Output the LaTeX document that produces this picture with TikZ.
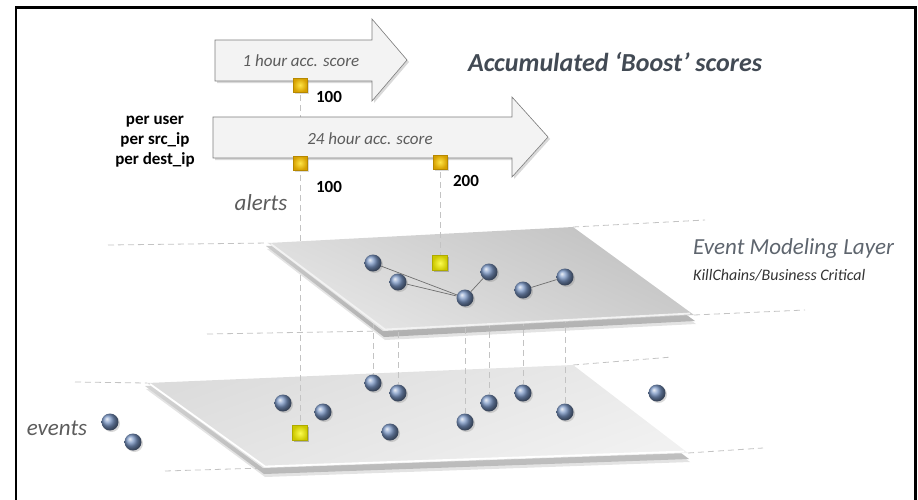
\documentclass[tikz,border=0pt]{standalone}
\usepackage{fontspec}
\setmainfont{Carlito}
\usetikzlibrary{shadows,calc}
\definecolor{ballc}{RGB}{122,150,196}
\definecolor{arrfill}{RGB}{243,243,243}
\definecolor{arrdraw}{RGB}{125,125,125}
\definecolor{dashc}{RGB}{195,195,195}
\definecolor{txtgray}{RGB}{92,92,92}
\definecolor{titlec}{RGB}{66,74,84}
\definecolor{goldhi}{RGB}{255,228,70}
\definecolor{goldlo}{RGB}{214,160,0}
\definecolor{yelhi}{RGB}{252,252,80}
\definecolor{yello}{RGB}{205,200,0}
\definecolor{linkc}{RGB}{110,110,110}
\begin{document}
\begin{tikzpicture}[x=1pt,y=-1pt,
  ball/.style={circle,minimum size=17pt,inner sep=0pt,ball color=ballc,
    drop shadow={opacity=0.3,shadow xshift=1.5pt,shadow yshift=-1.5pt}},
  goldsq/.style={rectangle,minimum size=14pt,inner sep=0pt,inner color=goldhi,outer color=goldlo,
    draw=goldlo!85!black,line width=0.3pt,
    drop shadow={opacity=0.3,shadow xshift=1.5pt,shadow yshift=-1.5pt}},
  yelsq/.style={rectangle,minimum size=15pt,inner sep=0pt,inner color=yelhi,outer color=yello,
    draw=yello!85!black,line width=0.3pt,
    drop shadow={opacity=0.3,shadow xshift=1.5pt,shadow yshift=-1.5pt}},
  guide/.style={draw=dashc,dash pattern=on 6pt off 4pt,line width=0.8pt},
  link/.style={draw=linkc,line width=0.7pt},
  blockarrow/.style={fill=arrfill,draw=arrdraw,line width=0.6pt,
    drop shadow={opacity=0.3,shadow xshift=2pt,shadow yshift=-2pt}},
  arrtxt/.style={font=\itshape\fontsize{17}{20}\selectfont,text=txtgray},
  numtxt/.style={font=\bfseries\fontsize{17}{20}\selectfont,text=black},
  bigital/.style={font=\itshape\fontsize{23}{26}\selectfont,text=txtgray}
]
\useasboundingbox (0,0) rectangle (918,499);

% plane corners
\coordinate (A1) at (268,243); \coordinate (B1) at (573,227);
\coordinate (C1) at (694,315); \coordinate (D1) at (383,331);
\coordinate (A2) at (147,383); \coordinate (B2) at (573,365);
\coordinate (C2) at (688,453); \coordinate (D2) at (263,468);
% guide ends
\coordinate (g1a) at (108,245); \coordinate (g1b) at (705,220);
\coordinate (g2a) at (207,334); \coordinate (g2b) at (805,310);
\coordinate (g3a) at (75,382);  \coordinate (g3b) at (672,357);
\coordinate (g4a) at (165,471); \coordinate (g4b) at (763,448);

% dashed plane extensions
\draw[guide] (g1a) -- (A1); \draw[guide] (B1) -- (g1b);
\draw[guide] (g2a) -- (D1); \draw[guide] (C1) -- (g2b);
\draw[guide] (g3a) -- (A2); \draw[guide] (B2) -- (g3b);
\draw[guide] (g4a) -- (D2); \draw[guide] (C2) -- (g4b);

% lower plane
\shade[top color=gray!30,bottom color=gray!55,drop shadow={opacity=0.22,shadow xshift=1pt,shadow yshift=-3pt}]
  ($(A2)+(-2,3)$) -- ($(B2)+(0,6)$) -- ($(C2)+(1,6)$) -- ($(D2)+(1,6)$) -- cycle;
\shade[top color={rgb,255:red,220;green,220;blue,220},bottom color={rgb,255:red,241;green,241;blue,241},shading angle=20]
  (A2) -- (B2) -- (C2) -- (D2) -- cycle;
\draw[white,line width=1.8pt] ($(A2)+(3,1)$) -- ($(D2)+(2,-1.5)$) -- ($(C2)+(-4,-1.5)$);

% upper plane slab
\shade[top color=gray!38,bottom color=gray!62,drop shadow={opacity=0.22,shadow xshift=1pt,shadow yshift=-3pt}]
  ($(A1)+(-2,3)$) -- ($(B1)+(0,6)$) -- ($(C1)+(1,6)$) -- ($(D1)+(1,6)$) -- cycle;

% lower balls and squares
\node[ball] (l1) at (373,383) {};
\node[ball] (l2) at (398,393) {};
\node[ball] (l3) at (465,422) {};
\node[ball] (l4) at (489,403) {};
\node[ball] (l5) at (523,393) {};
\node[ball] (l6) at (565,412) {};
\node[ball] (l7) at (283,403) {};
\node[ball] (l8) at (323,412) {};
\node[ball] (l9) at (390,432) {};
\node[ball] (l10) at (657,393) {};
\node[ball] (e1) at (110,422) {};
\node[ball] (e2) at (133,442) {};
\node[yelsq] (sqL) at (300,433) {};

% upper positions
\coordinate (pu1) at (373,263); \coordinate (pu2) at (398,282);
\coordinate (pu3) at (465,298); \coordinate (pu4) at (489,272);
\coordinate (pu5) at (523,290); \coordinate (pu6) at (565,277);

% vertical guides (behind upper plane)
\draw[guide] (pu1) -- (l1);
\draw[guide] (pu2) -- (l2);
\draw[guide] (pu3) -- (l3);
\draw[guide] (pu4) -- (l4);
\draw[guide] (pu5) -- (l5);
\draw[guide] (pu6) -- (l6);
\coordinate (sq1pos) at (300,85);
\draw[guide] (sq1pos) -- (sqL);
\node[yelsq] at (sqL) {};

% upper plane face
\shade[top color={rgb,255:red,194;green,194;blue,194},bottom color={rgb,255:red,230;green,230;blue,230},shading angle=-25]
  (A1) -- (B1) -- (C1) -- (D1) -- cycle;
\draw[white!90!gray,line width=1.8pt] ($(A1)+(3,1)$) -- ($(D1)+(2,-1.5)$) -- ($(C1)+(-4,-1.5)$);

% upper balls
\node[ball] (u1) at (pu1) {};
\node[ball] (u2) at (pu2) {};
\node[ball] (u3) at (pu3) {};
\node[ball] (u4) at (pu4) {};
\node[ball] (u5) at (pu5) {};
\node[ball] (u6) at (pu6) {};
\draw[link] (u1) -- (u3);
\draw[link] (u2) -- (u3);
\draw[link] (u3) -- (u4);
\draw[link] (u5) -- (u6);

\node[yelsq] (sqU) at (440,263) {};
\coordinate (sq3pos) at (440,162);
\draw[guide] (sq3pos) -- (sqU);
\node[yelsq] at (sqU) {};

% block arrows
\draw[blockarrow] (215,40) -- (372,40) -- (372,19) -- (407,60) -- (372,101) -- (372,81) -- (215,81) -- cycle;
\draw[blockarrow] (213,117) -- (512,117) -- (512,97) -- (548,137) -- (512,177) -- (512,158) -- (213,158) -- cycle;
\node[arrtxt] (t1) at (301,61) {1 hour acc. score};
\node[arrtxt] (t2) at (370,139) {24 hour acc. score};

% gold squares
\node[goldsq] (sq1) at (sq1pos) {};
\node[goldsq] (sq2) at (300,163) {};
\node[goldsq] (sq3) at (sq3pos) {};
\node[numtxt] (n1) at (329,97) {100};
\node[numtxt] (n2) at (329,187) {100};
\node[numtxt] (n3) at (466,181) {200};

% labels
\node[font=\bfseries\fontsize{17}{20}\selectfont,align=center] (per) at (155,142) {per user\\ per src\_ip\\ per dest\_ip};
\node[font=\bfseries\itshape\fontsize{26}{30}\selectfont,text=titlec] (title) at (615,62) {Accumulated ‘Boost’ scores};
\node[bigital] (alerts) at (261,203) {alerts};
\node[bigital] (events) at (57,428) {events};
\node[font=\itshape\fontsize{23}{26}\selectfont,text=titlec!85,anchor=west,inner sep=0pt] (eml) at (693,248) {Event Modeling Layer};
\node[font=\itshape\fontsize{16}{19}\selectfont,text=black!80,anchor=west,inner sep=0pt] (kc) at (693,275) {KillChains/Business Critical};

% frame
\draw[line width=2.2pt] (16,502) -- (16,7.5) -- (915.5,7.5) -- (915.5,502);
\end{tikzpicture}
\end{document}
